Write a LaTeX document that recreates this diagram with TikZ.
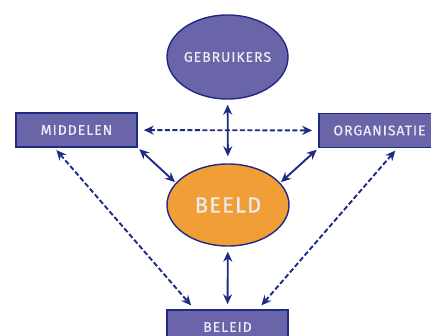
\documentclass[tikz,border=0pt]{standalone}
\usepackage{fontspec}
\setmainfont{Fira Sans}
\newfontfamily\lblfont[LetterSpace=7,FakeBold=0.6]{Fira Sans}
\newfontfamily\bigfont[LetterSpace=5,FakeBold=0.6]{Fira Sans}
\usetikzlibrary{shapes.geometric,arrows.meta,calc}
\definecolor{navy}{HTML}{1E2A84}
\definecolor{lila}{HTML}{6A65A9}
\definecolor{oranje}{HTML}{F09E35}
\definecolor{txt}{HTML}{ECECF4}
\begin{document}
\begin{tikzpicture}[x=1pt,y=-1pt,
  lbl/.style={text=txt,font=\lblfont\fontsize{14}{16}\selectfont,inner sep=0pt},
  ovalbox/.style={ellipse,draw=navy,line width=1.4pt,lbl,inner xsep=-25pt,inner ysep=-5pt},
  rectbox/.style={rectangle,draw=navy,line width=1.6pt,fill=lila,lbl,minimum width=121pt,minimum height=34pt},
  arr/.style={navy,line width=1.9pt,{Stealth[length=10pt,width=9pt]}-{Stealth[length=10pt,width=9pt]}},
  dsh/.style={arr,dash pattern=on 5pt off 2.5pt}
]
\useasboundingbox (0,0) rectangle (431,336);
\node[ovalbox,fill=lila,minimum width=121pt,minimum height=84pt] (gebr) at (227.5,57) {GEBRUIKERS};
\node[ovalbox,fill=oranje,minimum width=122pt,minimum height=82pt,font=\bigfont\fontsize{22}{26}\selectfont] (beeld) at (228,205) {BEELD};
\node[rectbox] (mid) at (76.5,130) {MIDDELEN};
\node[rectbox] (org) at (379.5,130.5) {ORGANISATIE};
\node[rectbox] (bel) at (227.5,327) {BELEID};
\draw[arr,shorten <=5pt,shorten >=7pt] (gebr) -- (beeld);
\draw[dsh,shorten <=6pt,shorten >=6pt] (mid) -- (org);
\draw[arr,shorten <=2pt,shorten >=1pt] (mid.south east) -- (beeld.157);
\draw[arr,shorten <=2pt,shorten >=1pt] (org.south west) -- (beeld.23);
\draw[arr,shorten <=5pt,shorten >=5pt] (beeld) -- (bel);
\draw[dsh,shorten <=3pt,shorten >=5pt] ($(mid.south west)!0.32!(mid.south east)$) -- ($(bel.north west)!0.23!(bel.north east)$);
\draw[dsh,shorten <=3pt,shorten >=5pt] ($(org.south west)!0.645!(org.south east)$) -- ($(bel.north west)!0.75!(bel.north east)$);
\end{tikzpicture}
\end{document}
